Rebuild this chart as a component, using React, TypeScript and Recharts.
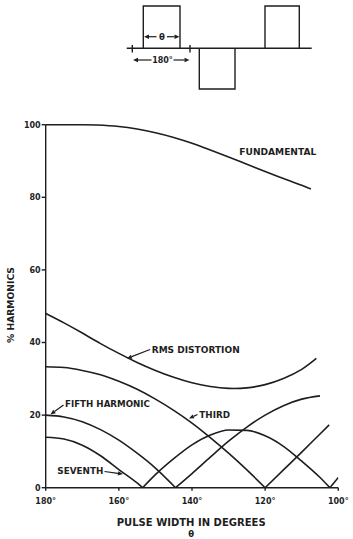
import React from 'react';
import { LineChart, Line, XAxis, YAxis } from 'recharts';

const xTicks = [180, 160, 140, 120, 100];
const yTicks = [0, 20, 40, 60, 80, 100];

const fundamental = [
  { t: 180, v: 100 }, { t: 175, v: 100 }, { t: 170, v: 100 }, { t: 166, v: 99.9 },
  { t: 160, v: 99.5 }, { t: 155, v: 98.8 }, { t: 150, v: 97.8 }, { t: 145, v: 96.5 },
  { t: 140, v: 94.9 }, { t: 135, v: 93.0 }, { t: 130, v: 91.1 }, { t: 125, v: 89.1 },
  { t: 120, v: 87.1 }, { t: 115, v: 85.2 }, { t: 110, v: 83.3 }, { t: 107.5, v: 82.3 },
];

const rmsDistortion = [
  { t: 180, v: 48 }, { t: 175, v: 45.4 }, { t: 170, v: 42.6 }, { t: 165, v: 39.7 },
  { t: 160, v: 37 }, { t: 155, v: 34.5 }, { t: 150, v: 32.3 }, { t: 145, v: 30.4 },
  { t: 140, v: 28.9 }, { t: 135, v: 27.9 }, { t: 130, v: 27.35 }, { t: 125, v: 27.5 },
  { t: 120, v: 28.4 }, { t: 115, v: 30.1 }, { t: 110, v: 32.6 }, { t: 106, v: 35.6 },
];

const thirdA = [
  { t: 180, v: 33.3 }, { t: 175, v: 33.1 }, { t: 170, v: 32.3 }, { t: 165, v: 31.1 },
  { t: 160, v: 29.3 }, { t: 155, v: 27.1 }, { t: 150, v: 24.4 }, { t: 145, v: 21.3 },
  { t: 140, v: 17.8 }, { t: 135, v: 13.8 }, { t: 130, v: 9.5 }, { t: 125, v: 4.9 },
  { t: 120, v: 0 },
];
const thirdB = [
  { t: 120, v: 0 }, { t: 115, v: 4.9 }, { t: 110, v: 9.8 }, { t: 105, v: 14.8 }, { t: 102.5, v: 17.3 },
];

const fifthA = [
  { t: 180, v: 20 }, { t: 175, v: 19.5 }, { t: 170, v: 18.2 }, { t: 165, v: 16 },
  { t: 160, v: 13.1 }, { t: 155, v: 9.5 }, { t: 150, v: 5.4 }, { t: 144.5, v: 0 },
];
const fifthB = [
  { t: 144.5, v: 0 }, { t: 140, v: 3.9 }, { t: 135, v: 8.4 }, { t: 130, v: 12.8 },
  { t: 125, v: 16.7 }, { t: 120, v: 20 }, { t: 115, v: 22.6 }, { t: 110, v: 24.4 }, { t: 105, v: 25.3 },
];

const seventhA = [
  { t: 180, v: 13.9 }, { t: 175, v: 13.4 }, { t: 170, v: 11.7 }, { t: 165, v: 8.8 },
  { t: 160, v: 5 }, { t: 155, v: 1.3 }, { t: 153.5, v: 0 },
];
const seventhB = [
  { t: 153.5, v: 0 }, { t: 150, v: 3.6 }, { t: 145, v: 8 }, { t: 140, v: 11.8 },
  { t: 135, v: 14.5 }, { t: 130, v: 15.9 }, { t: 125, v: 15.8 }, { t: 120, v: 14.3 },
  { t: 115, v: 11.4 }, { t: 110, v: 7.3 }, { t: 105, v: 2.8 }, { t: 102.3, v: 0 },
];
const seventhC = [{ t: 102.3, v: 0 }, { t: 100, v: 2.8 }];

const series: { data: { t: number; v: number }[]; curve: 'monotone' | 'natural' }[] = [
  { data: fundamental, curve: 'monotone' },
  { data: rmsDistortion, curve: 'natural' },
  { data: thirdA, curve: 'monotone' },
  { data: thirdB, curve: 'monotone' },
  { data: fifthA, curve: 'monotone' },
  { data: fifthB, curve: 'monotone' },
  { data: seventhA, curve: 'monotone' },
  { data: seventhB, curve: 'monotone' },
  { data: seventhC, curve: 'monotone' },
];

const INK = '#1e1e1e';
const FONT = '"DejaVu Sans", Arial, sans-serif';

function Arrow({ x1, y1, x2, y2 }: { x1: number; y1: number; x2: number; y2: number }) {
  const a = Math.atan2(y2 - y1, x2 - x1);
  const L = 5, W = 2.2;
  const bx = x2 - L * Math.cos(a), by = y2 - L * Math.sin(a);
  const p1 = `${bx + W * Math.sin(a)},${by - W * Math.cos(a)}`;
  const p2 = `${bx - W * Math.sin(a)},${by + W * Math.cos(a)}`;
  return (
    <g>
      <line x1={x1} y1={y1} x2={bx} y2={by} stroke={INK} strokeWidth={1.2} />
      <polygon points={`${x2},${y2} ${p1} ${p2}`} fill={INK} />
    </g>
  );
}

function Overlay() {
  const txt = { fontFamily: FONT, fill: INK, fontWeight: 700 } as const;
  return (
    <svg width={353} height={539} style={{ position: 'absolute', left: 0, top: 0, pointerEvents: 'none' }}>
      {/* waveform diagram */}
      <g stroke={INK} strokeWidth={1.4} fill="none">
        <path d="M126.7 48.3 H311.7" />
        <path d="M143.3 48.3 V6 H180 V48.3" />
        <path d="M199.3 48.3 V89 H235 V48.3" />
        <path d="M265 48.3 V6 H299.3 V48.3" />
        <path d="M132.3 45 V52.5" />
        <path d="M190 45 V52.5" />
      </g>
      <Arrow x1={156.5} y1={36.7} x2={144} y2={36.7} />
      <Arrow x1={167} y1={36.7} x2={179.5} y2={36.7} />
      <text x={161.8} y={39.7} textAnchor="middle" fontSize={8.5} {...txt}>θ</text>
      <Arrow x1={151.5} y1={60} x2={133} y2={60} />
      <Arrow x1={173.5} y1={60} x2={189.5} y2={60} />
      <text x={162.5} y={63} textAnchor="middle" fontSize={8} {...txt}>180°</text>

      {/* curve labels */}
      <text x={239.3} y={155} fontSize={8.6} textLength={77} lengthAdjust="spacingAndGlyphs" {...txt}>FUNDAMENTAL</text>
      <text x={151.7} y={352.6} fontSize={9} textLength={88} lengthAdjust="spacingAndGlyphs" {...txt}>RMS DISTORTION</text>
      <text x={65} y={406.7} fontSize={9} textLength={85} lengthAdjust="spacingAndGlyphs" {...txt}>FIFTH HARMONIC</text>
      <text x={199.3} y={417.6} fontSize={9} textLength={30.7} lengthAdjust="spacingAndGlyphs" {...txt}>THIRD</text>
      <text x={57.3} y={474} fontSize={9} textLength={46} lengthAdjust="spacingAndGlyphs" {...txt}>SEVENTH</text>
      <Arrow x1={150} y1={349.5} x2={127} y2={358.5} />
      <Arrow x1={63.5} y1={405} x2={50.5} y2={414.5} />
      <Arrow x1={197.5} y1={414.5} x2={189} y2={418.5} />
      <Arrow x1={104.5} y1={471.5} x2={123} y2={474} />

      {/* axis titles */}
      <text x={191.2} y={525.5} textAnchor="middle" fontSize={9.6} textLength={149} lengthAdjust="spacingAndGlyphs" {...txt}>PULSE WIDTH IN DEGREES</text>
      <text x={191.2} y={536.5} textAnchor="middle" fontSize={8.5} {...txt}>θ</text>
      <text x={0} y={0} transform="translate(14.3 305) rotate(-90)" textAnchor="middle" fontSize={9} textLength={76} lengthAdjust="spacingAndGlyphs" {...txt}>% HARMONICS</text>
    </svg>
  );
}

export default function App() {
  return (
    <div style={{ position: 'absolute', left: 0, top: 0, width: 353, height: 539, background: '#fff' }}>
      <LineChart width={353} height={539} margin={{ top: 124.7, right: 14.7, bottom: 21.3, left: 0 }}>
        <XAxis
          dataKey="t"
          type="number"
          domain={[100, 180]}
          reversed
          allowDataOverflow
          ticks={xTicks}
          tickFormatter={(v: number) => `${v}°`}
          height={30}
          stroke={INK}
          strokeWidth={1.4}
          tickSize={3}
          tickMargin={8}
          tick={{ fill: INK, fontSize: 8, fontFamily: FONT, fontWeight: 700 }}
          interval={0}
        />
        <YAxis
          type="number"
          domain={[0, 100]}
          ticks={yTicks}
          width={45.7}
          stroke={INK}
          strokeWidth={1.4}
          tickSize={4}
          tickMargin={1}
          tick={{ fill: INK, fontSize: 8, fontFamily: FONT, fontWeight: 700 }}
          interval={0}
        />
        {series.map((s, i) => (
          <Line
            key={i}
            data={s.data}
            dataKey="v"
            type={s.curve}
            stroke={INK}
            strokeWidth={1.6}
            dot={false}
            isAnimationActive={false}
          />
        ))}
      </LineChart>
      <Overlay />
    </div>
  );
}
